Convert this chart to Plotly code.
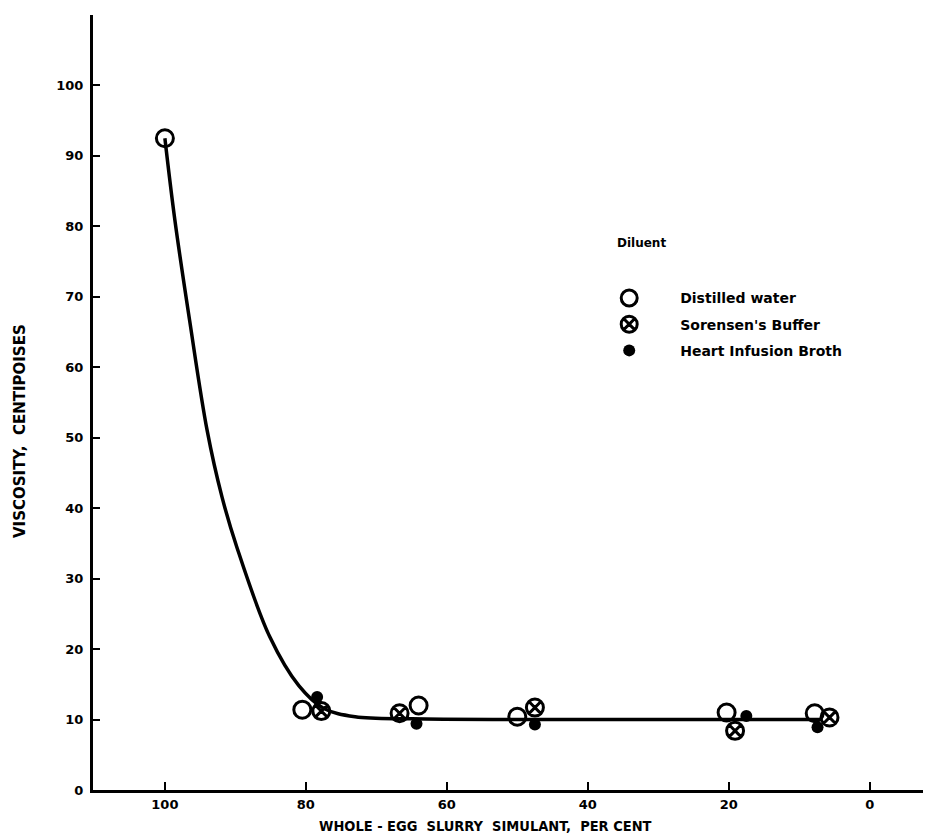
import plotly.graph_objects as go

# Data
water_x = [100, 80.5, 64, 50, 20.3, 7.8]
water_y = [92.5, 11.4, 12.0, 10.4, 11.0, 10.9]

sorensen_x = [77.8, 66.7, 47.5, 19.1, 5.7]
sorensen_y = [11.2, 10.9, 11.7, 8.4, 10.3]

heart_x = [78.4, 64.3, 47.5, 17.5, 7.4]
heart_y = [13.2, 9.4, 9.3, 10.5, 8.9]

curve_x = [100, 98.6, 96.5, 94.0, 91.9, 89.8, 85.1, 81.0, 77.5, 73.0, 65, 50, 30, 7]
curve_y = [92.5, 81.0, 66.7, 51.0, 41.6, 34.5, 21.7, 14.8, 11.6, 10.4, 10.1, 10.0, 10.0, 10.0]

x_ticks = [100, 80, 60, 40, 20, 0]
y_ticks = [0, 10, 20, 30, 40, 50, 60, 70, 80, 90, 100]

FONT = "DejaVu Sans, sans-serif"
FONT_C = "DejaVu Sans Condensed, DejaVu Sans, sans-serif"

fig = go.Figure()
fig.add_trace(go.Scatter(x=curve_x, y=curve_y, mode="lines",
                         line=dict(color="black", width=3.5, shape="spline", smoothing=1.0),
                         showlegend=False, hoverinfo="skip"))
fig.add_trace(go.Scatter(x=water_x, y=water_y, mode="markers", name="Distilled water",
                         legendgroup="a",
                         marker=dict(symbol="circle-open", size=17, color="black", line=dict(width=3))))
fig.add_trace(go.Scatter(x=sorensen_x, y=sorensen_y, mode="markers", name="Sorensen's Buffer",
                         legendgroup="b",
                         marker=dict(symbol="circle-x-open", size=17, color="black", line=dict(width=3))))
fig.add_trace(go.Scatter(x=heart_x, y=heart_y, mode="markers", name="Heart Infusion Broth",
                         legendgroup="c",
                         marker=dict(symbol="circle", size=12, color="black")))

fig.update_layout(
    width=931, height=838,
    margin=dict(l=85, r=8, t=7, b=56, autoexpand=False),
    paper_bgcolor="white", plot_bgcolor="white",
    font=dict(family=FONT, color="black", size=13),
    legend=dict(x=0.579, y=0.655, xanchor="left", yanchor="top",
                traceorder="grouped", bgcolor="rgba(0,0,0,0)",
                font=dict(size=14, weight="bold", family=FONT), itemwidth=92,
                tracegroupgap=5),
    annotations=[
        dict(text="Diluent", xref="paper", yref="paper", x=(607 - 85) / 838, y=0.706,
             xanchor="left", yanchor="middle", showarrow=False,
             font=dict(size=12, weight="bold", family=FONT)),
        dict(text="WHOLE - EGG  SLURRY  SIMULANT,  PER CENT", xref="paper", yref="paper",
             x=(477 - 85) / 838, y=0, yshift=-36, xanchor="center", yanchor="middle",
             showarrow=False, font=dict(size=14.5, weight="bold", family=FONT_C)),
        dict(text="VISCOSITY,  CENTIPOISES", xref="paper", yref="paper",
             x=0, xshift=-73, y=(782 - 423) / 775, xanchor="center", yanchor="middle",
             textangle=-90, showarrow=False, font=dict(size=15, weight="bold", family=FONT)),
    ],
)
fig.update_xaxes(range=[110.2, -8.7], tickvals=x_ticks, ticktext=[str(v) for v in x_ticks],
                 ticks="inside", ticklen=8, tickwidth=2, tickcolor="black", automargin=False,
                 showline=True, linecolor="black", linewidth=3, showgrid=False, zeroline=False,
                 tickfont=dict(size=13, weight="bold", family=FONT))
fig.update_yaxes(range=[0, 110], tickvals=y_ticks, ticktext=[str(v) for v in y_ticks],
                 ticks="inside", ticklen=7, tickwidth=2, tickcolor="black", automargin=False,
                 showline=True, linecolor="black", linewidth=3, showgrid=False, zeroline=False,
                 ticklabelstandoff=4,
                 tickfont=dict(size=13, weight="bold", family=FONT))

fig.write_html("out.html")
